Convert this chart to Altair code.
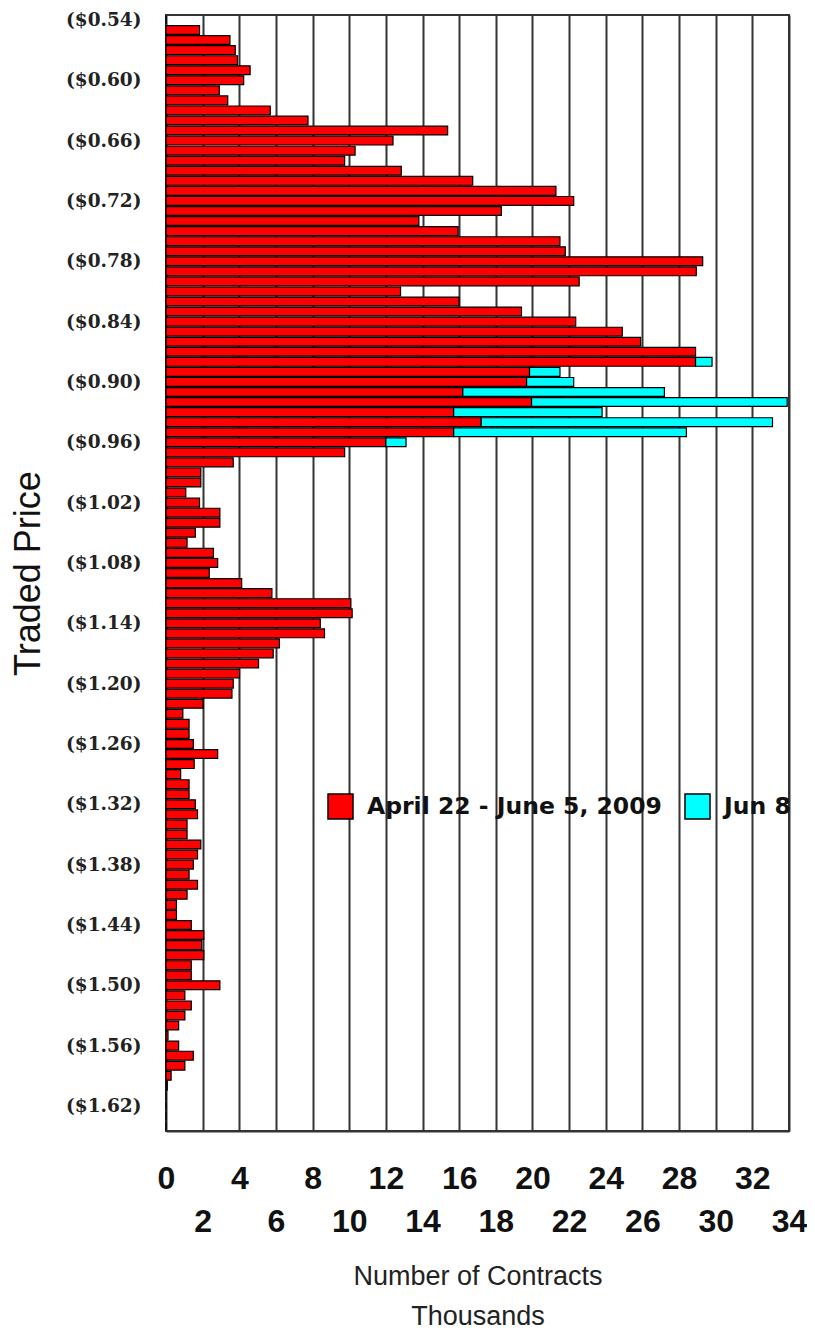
import altair as alt
import pandas as pd

# Price categories $0.54 .. $1.64 (one per cent)
prices = ["($%.2f)" % (54 / 100 + i / 100) for i in range(111)]
tick_labels = ["($0.54)", "($0.60)", "($0.66)", "($0.72)", "($0.78)", "($0.84)", "($0.90)",
               "($0.96)", "($1.02)", "($1.08)", "($1.14)", "($1.20)", "($1.26)", "($1.32)",
               "($1.38)", "($1.44)", "($1.50)", "($1.56)", "($1.62)"]

# April 22 - June 5, 2009 (thousands of contracts), top to bottom
red_values = [
    0, 1.83, 3.49, 3.78, 3.9, 4.59, 4.24, 2.91, 3.37, 5.69,
    7.75, 15.37, 12.39, 10.32, 9.75, 12.84, 16.74, 21.28, 22.25, 18.3,
    13.8, 15.94, 21.5, 21.79, 29.29, 28.94, 22.55, 12.8, 15.99, 19.4,
    22.36, 24.9, 25.9, 28.9, 28.9, 19.84, 19.68, 16.2, 19.95, 15.7,
    17.2, 15.7, 12.0, 9.75, 3.67, 1.9, 1.9, 1.08, 1.83, 2.94,
    2.94, 1.6, 1.15, 2.59, 2.82, 2.36, 4.13, 5.78, 10.09, 10.16,
    8.42, 8.65, 6.19, 5.85, 5.05, 4.01, 3.67, 3.6, 2.02, 0.92,
    1.26, 1.26, 1.49, 2.82, 1.54, 0.8, 1.26, 1.26, 1.6, 1.72,
    1.15, 1.15, 1.9, 1.72, 1.49, 1.26, 1.72, 1.15, 0.57, 0.57,
    1.38, 2.06, 1.95, 2.06, 1.38, 1.38, 2.94, 1.03, 1.38, 1.03,
    0.69, 0.11, 0.69, 1.49, 1.03, 0.28, 0.07, 0, 0, 0, 0,
]

# Jun 8
cyan_prices = ["($0.88)", "($0.89)", "($0.90)", "($0.91)", "($0.92)",
               "($0.93)", "($0.94)", "($0.95)", "($0.96)"]
cyan_values = [0.9, 1.66, 2.57, 11.0, 13.95, 8.1, 15.9, 12.7, 1.1]

series_names = ["April 22 - June 5, 2009", "Jun 8"]
series_colors = ["#ff0000", "#00ffff"]

x_ticks = list(range(0, 35, 2))

rows = []
for p, v in zip(prices, red_values):
    rows.append({"price": p, "value": v, "series": series_names[0], "ord": 0})
for p, v in zip(cyan_prices, cyan_values):
    rows.append({"price": p, "value": v, "series": series_names[1], "ord": 1})
df = pd.DataFrame(rows)

chart = alt.Chart(df).mark_bar(stroke="black", strokeWidth=1.2).encode(
    y=alt.Y(
        "price:N",
        sort=prices,
        scale=alt.Scale(paddingInner=0.12, paddingOuter=0.05),
        axis=alt.Axis(
            values=tick_labels,
            title="Traded Price",
            titleX=-138,
            titleY=558,
            titleAngle=-90,
            titleAlign="center",
            titleBaseline="middle",
            titleFont="Liberation Sans",
            titleFontSize=36,
            titleFontWeight="normal",
            titleColor="#111",
            labelFont="DejaVu Serif",
            labelFontSize=18.5,
            labelFontWeight="bold",
            labelColor="#222",
            labelPadding=25,
            ticks=False,
            tickSize=0,
            domain=False,
            grid=False,
        ),
    ),
    x=alt.X(
        "value:Q",
        stack="zero",
        scale=alt.Scale(domain=[0, 34], nice=False),
        axis=alt.Axis(
            values=x_ticks,
            labelExpr="datum.value % 4 == 0 ? datum.label : ['', datum.label]",
            labelLineHeight=43,
            labelFont="Liberation Sans",
            labelFontSize=32,
            labelFontWeight="bold",
            labelColor="#111",
            labelPadding=32,
            labelOverlap=False,
            labelFlush=False,
            labelBound=False,
            ticks=False,
            tickSize=0,
            grid=True,
            gridColor="#333",
            gridWidth=2,
            gridOpacity=1,
            domain=True,
            domainColor="#333",
            domainWidth=2,
            title=["Number of Contracts", "Thousands"],
            titleX=311.5,
            titleY=132,
            titleAlign="center",
            titleBaseline="top",
            titleLineHeight=40,
            titleFont="Liberation Sans",
            titleFontSize=27,
            titleFontWeight="normal",
            titleColor="#222",
        ),
    ),
    color=alt.Color(
        "series:N",
        scale=alt.Scale(domain=series_names, range=series_colors),
        legend=alt.Legend(
            orient="none",
            legendX=161,
            legendY=778,
            direction="horizontal",
            title=None,
            symbolType="square",
            symbolSize=625,
            symbolStrokeColor="black",
            symbolStrokeWidth=1.5,
            symbolOpacity=1,
            labelFont="DejaVu Sans",
            labelFontSize=23.5,
            labelFontWeight="bold",
            labelColor="#111",
            labelOffset=13,
            labelLimit=400,
            columnPadding=20,
        ),
    ),
    order=alt.Order("ord:Q"),
).properties(
    width=623,
    height=1116,
    autosize=alt.AutoSizeParams(type="none"),
    padding={"left": 158, "top": 7, "right": 18, "bottom": 201},
).configure_view(
    stroke="#333",
    strokeWidth=2,
)

chart.save("out.html", embed_options={"renderer": "svg", "actions": False})
